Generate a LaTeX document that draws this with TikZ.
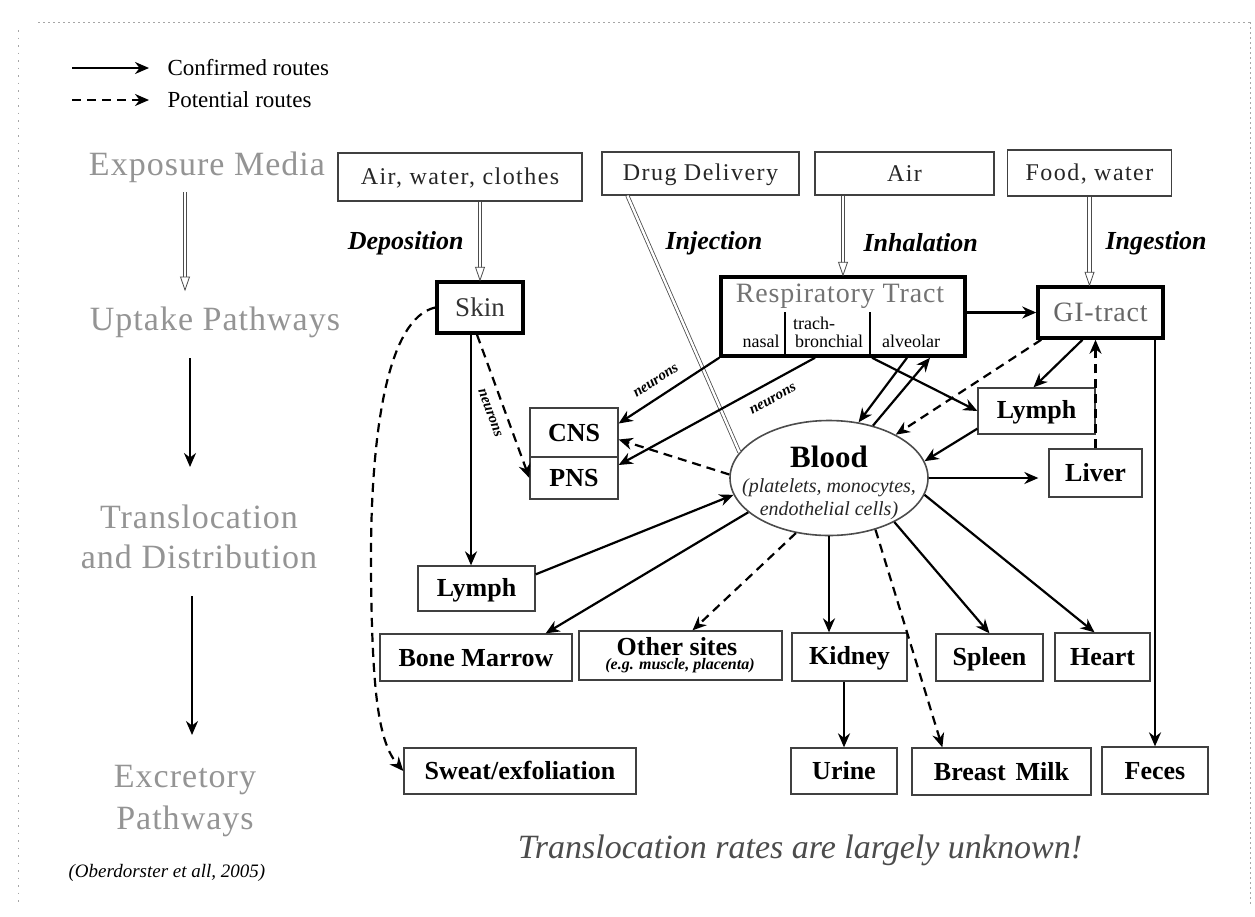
\documentclass[tikz,border=0pt]{standalone}
\usepackage{fontspec}
\setmainfont{Liberation Serif}
\newfontfamily\spacedserif[LetterSpace=6]{Liberation Serif}
\newfontfamily\widegray[LetterSpace=3]{Liberation Serif}
\usetikzlibrary{arrows.meta,shapes.geometric,calc}
\newcommand{\myfs}[1]{\fontsize{#1}{#1}\selectfont}
\newcommand{\hollowarrow}[2]{%
  \draw[hshaft] (#1) -- ($(#2)+(0,-11)$);
  \draw[htip] ($(#2)+(-4.5,-13)$) -- (#2) -- ($(#2)+(4.5,-13)$) -- cycle;}
\begin{document}
\begin{tikzpicture}[x=1pt,y=-1pt,
  bx/.style 2 args={draw=black!75, line width=1.3pt, rectangle, inner sep=0pt,
     minimum width=#1, minimum height=#2, fill=white,
     execute at begin node={\rule[-0.14em]{0pt}{0.94em}}},
  thickbx/.style={line width=3.5pt, draw=black},
  con/.style={line width=2.2pt, -{Stealth[length=14pt,width=12pt]}},
  dcon/.style={con, dash pattern=on 9pt off 6pt},
  hshaft/.style={draw=black!70, line width=0.8pt, double=white, double distance=2.6pt},
  htip/.style={draw=black!70, line width=0.8pt, fill=white},
  dbl/.style={draw=black!70, line width=0.8pt, double=white, double distance=2.4pt},
  lbl/.style={font=\myfs{26}\bfseries\itshape},
  nrn/.style={font=\myfs{15}\bfseries\itshape, inner sep=1pt},
  topt/.style={font=\spacedserif\myfs{24}, text=black!85},
  bl/.style={font=\myfs{26}\bfseries},
  side/.style={font=\widegray\myfs{34}, text=black!42, align=center},
  sub/.style={font=\myfs{18}, inner sep=0pt}]
\useasboundingbox (0,0) rectangle (1255,916);
\fill[white] (0,0) rectangle (1255,916);
% faint scan frame
\draw[black!35, line width=0.8pt, dash pattern=on 1.5pt off 3.5pt] (38,22) -- (1250,22);
\draw[black!35, line width=0.8pt, dash pattern=on 1.5pt off 6pt] (18,30) -- (18,905);
\draw[black!35, line width=0.8pt, dash pattern=on 1.5pt off 3.5pt] (1250,22) -- (1250,905);

% legend
\coordinate (l1a) at (72,68); \coordinate (l1b) at (149,68);
\coordinate (l2a) at (72,100); \coordinate (l2b) at (149,100);
\draw[con] (l1a) -- (l1b);
\draw[dcon] (l2a) -- (l2b);
\node[anchor=west, font=\myfs{23}] (leg1) at (164,68) {Confirmed routes};
\node[anchor=west, font=\myfs{23}] (leg2) at (164,100) {Potential\hspace{6pt}routes};

% left column
\node[side] (expo) at (207,167) {Exposure Media};
\node[side] (uptake) at (215,322) {Uptake Pathways};
\node[side, font=\widegray\fontsize{34}{40}\selectfont] (transl) at (199,537) {Translocation\\and Distribution};
\node[side, font=\widegray\fontsize{34}{42}\selectfont] (excr) at (185,801) {Excretory\\Pathways};
\node[font=\myfs{19}\itshape] (ober) at (167,873) {(Oberdorster et all, 2005)};
\coordinate (a1s) at (185,192); \coordinate (a1e) at (185,290);
\coordinate (a2s) at (190,358); \coordinate (a2e) at (190,467);
\coordinate (a3s) at (192,596); \coordinate (a3e) at (192,735);
\hollowarrow{a1s}{a1e}
\draw[con] (a2s) -- (a2e);
\draw[con] (a3s) -- (a3e);

% exposure media boxes
\node[bx={244pt}{48pt}, topt] (awc) at (460,177) {Air, water, clothes};
\node[bx={197pt}{43pt}, topt] (drug) at (700.5,173.5) {Drug Delivery};
\node[bx={179pt}{43pt}, topt] (air) at (904.5,173.5) {Air};
\node[bx={164pt}{46pt}, topt] (food) at (1089.5,173) {Food, water};

% uptake
\node[bx={86pt}{51pt}, thickbx, font=\myfs{27}, text=black!80] (skin) at (480,307.5) {Skin};
\node[bx={244pt}{79pt}, thickbx] (rt) at (843,316.5) {};
\node[font=\widegray\myfs{28}, text=black!55] (rtt) at (840,296) {Respiratory Tract};
\draw[line width=1.6pt] ($(rt.south west)+(66,-2)$) -- ++(0,-44);
\draw[line width=1.6pt] ($(rt.south west)+(151,-2)$) -- ++(0,-44);
\node[sub] (nasal) at (761,341) {nasal};
\node[sub] (trach) at (814,323) {trach-};
\node[sub] (bronch) at (829,341) {bronchial};
\node[sub] (alv) at (911,341) {alveolar};
\node[bx={125pt}{51pt}, thickbx, font=\widegray\myfs{28}, text=black!60] (gi) at (1100.5,312.5) {GI-tract};

% distribution
\node[bx={117pt}{46pt}, bl] (lymphR) at (1036.5,411) {Lymph};
\node[bx={93pt}{48pt}, bl] (liver) at (1095.5,473) {Liver};
\node[draw=black!70, line width=1.6pt, ellipse, minimum width=198pt, minimum height=115pt, inner sep=0pt, fill=white] (blood) at (829,478) {};
\node[font=\myfs{31}\bfseries] (bloodt) at (829,457) {Blood};
\node[font=\fontsize{20}{23}\selectfont\itshape, align=center, text=black!85] (bloodsub) at (829,499) {(platelets, monocytes,\\endothelial cells)};
\node[bx={88pt}{49pt}, bl] (cns) at (574,432.5) {CNS};
\node[bx={88pt}{42pt}, bl] (pns) at (574,478) {PNS};
\node[bx={117pt}{45pt}, bl] (lymphL) at (476.5,588.5) {Lymph};
\node[bx={192pt}{47pt}, bl] (bone) at (476,657.5) {Bone Marrow};
\node[bx={203pt}{49pt}] (other) at (680.5,655.5) {};
\node[font=\myfs{26}\bfseries, inner sep=0pt] (othert) at (677,647) {Other sites};
\node[font=\myfs{16}\bfseries\itshape, inner sep=0pt] (others) at (680,666) {(e.g. muscle, placenta)};
\node[bx={115pt}{48pt}, bl] (kidney) at (849.5,657) {Kidney};
\node[bx={107pt}{47pt}, bl] (spleen) at (989.5,657.5) {Spleen};
\node[bx={95pt}{48pt}, bl] (heart) at (1102.5,657) {Heart};

% excretory
\node[bx={232pt}{46pt}, bl] (sweat) at (520,771) {Sweat/exfoliation};
\node[bx={106pt}{46pt}, bl] (urine) at (844,771) {Urine};
\node[bx={179pt}{47pt}, bl] (milk) at (1001.5,771.5) {Breast\hspace{10pt}Milk};
\node[bx={106pt}{47pt}, bl] (feces) at (1155,770.5) {Feces};

\node[font=\myfs{34}\itshape, text=black!70] (unk) at (800,850) {Translocation rates are largely unknown!};

% uptake pathway labels
\node[lbl, anchor=east] (dep) at (467,243) {Deposition};
\node[lbl, anchor=west] (inj) at (662,243) {Injection};
\node[lbl, anchor=west] (inh) at (860,243) {Inhalation};
\node[lbl, anchor=west] (ing) at (1102,243) {Ingestion};

% hollow uptake arrows
\hollowarrow{skin.north |- awc.south}{skin.north}
\hollowarrow{rt.north |- air.south}{rt.north}
\hollowarrow{food.south}{food.south |- gi.north}
\draw[dbl] ($(drug.south west)+(26,0)$) -- (blood.164);

% neuronal routes
\draw[con] (rt.south west) -- ($(cns.east)+(0,-9)$);
\node[nrn, rotate=33] (n1) at (656,381) {neurons};
\draw[con] ($(rt.south)+(-28,0)$) -- ($(pns.east)+(0,-13)$);
\node[nrn, rotate=29] (n2) at (773,399) {neurons};
\coordinate (sk1) at ($(skin.south)+(-9,0)$);
\draw[con] (sk1) -- (sk1 |- lymphL.north);
\draw[dcon] ($(skin.south)+(-3,0)$) -- (pns.west);
\node[nrn, rotate=-70] (n3) at (490,413) {neurons};
\draw[dcon] (skin.west) .. controls (388,318) and (370,430) .. (371,570) .. controls (372,690) and (378,742) .. (sweat.west);

% respiratory / GI / lymph / blood
\draw[con] (rt.east |- gi.west) -- (gi.west);
\draw[con] ($(rt.south)+(64,0)$) -- (blood.62);
\draw[con] (blood.50) -- ($(rt.south)+(87,0)$);
\draw[con] ($(rt.south)+(29,0)$) -- (lymphR.west);
\draw[dcon] ($(gi.south west)+(5,0)$) -- (blood.33);
\draw[con] ($(gi.south)+(-18,0)$) -- ($(lymphR.north)+(-3,0)$);
\draw[con] ($(lymphR.south west)+(0,-6)$) -- (blood.10);
\draw[dcon] (liver.north) -- (liver.north |- gi.south);
\draw[con] (feces.north |- gi.south) -- (feces.north);
\draw[con, shorten >=10pt] (blood.east) -- (blood.east -| liver.west);
\draw[dcon] (blood.178) -- ($(cns.east)+(0,7)$);

% blood to organs
\draw[con] ($(lymphL.north east)+(0,9)$) -- (blood.190);
\draw[con] (blood.203) -- ($(bone.north east)+(-27,0)$);
\draw[dcon] (blood.239) -- ($(other.north)+(12,0)$);
\draw[con] (blood.south) -- (blood.south |- kidney.north);
\draw[dcon] (blood.312) -- ($(milk.north west)+(31,0)$);
\draw[con] (blood.326) -- (spleen.north);
\draw[con] (blood.350) -- ($(heart.north)+(-8,0)$);
\draw[con] (urine.north |- kidney.south) -- (urine.north);
\end{tikzpicture}
\end{document}
